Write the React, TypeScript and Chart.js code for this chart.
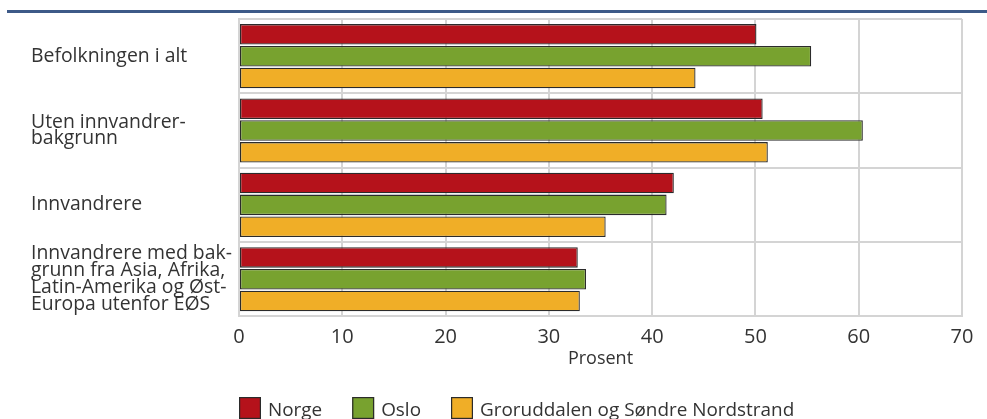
import React, { useEffect, useRef } from "react";
import { Chart, registerables } from "chart.js";

Chart.register(...registerables);

const categories: (string | string[])[] = [
  "Befolkningen i alt",
  ["Uten innvandrer-", "bakgrunn"],
  "Innvandrere",
  ["Innvandrere med bak-", "grunn fra Asia, Afrika,", "Latin-Amerika og Øst-", "Europa utenfor EØS"],
];

const seriesNames = ["Norge", "Oslo", "Groruddalen og Søndre Nordstrand"];
const norge = [50.1, 50.7, 42.1, 32.8];
const oslo = [55.4, 60.4, 41.4, 33.6];
const groruddalen = [44.2, 51.2, 35.5, 33.0];
const seriesColors = ["#b5121b", "#78a22f", "#f0ae27"];

const xTicks = [0, 10, 20, 30, 40, 50, 60, 70];
const axisTitle = "Prosent";

const FONT = "'Open Sans', 'DejaVu Sans', sans-serif";
const TEXT = "#333333";
const GRID = "#d4d4d4";

const decorPlugin = {
  id: "decor",
  beforeDraw(chart: any) {
    const ctx = chart.ctx;
    ctx.save();
    ctx.fillStyle = "#3d5a88";
    ctx.fillRect(7, 10, 987 - 7, 3);
    ctx.restore();
  },
  afterDraw(chart: any) {
    const ctx = chart.ctx;
    ctx.save();
    ctx.font = `18.9px ${FONT}`;
    ctx.textBaseline = "alphabetic";
    let x = chart.chartArea.left;
    const top = 397;
    chart.data.datasets.forEach((ds: any) => {
      ctx.fillStyle = ds.backgroundColor;
      ctx.fillRect(x, top, 22, 22);
      ctx.strokeStyle = "#2b2b2b";
      ctx.lineWidth = 1.2;
      ctx.strokeRect(x + 0.6, top + 0.6, 20.8, 20.8);
      ctx.fillStyle = TEXT;
      const tx = x + 22 + 7;
      ctx.fillText(ds.label, tx, top + 19);
      x = tx + ctx.measureText(ds.label).width + 30;
    });
    ctx.restore();
  },
};

export default function App() {
  const ref = useRef<HTMLCanvasElement | null>(null);

  useEffect(() => {
    if (!ref.current) return;
    const mk = (label: string, data: number[], color: string) => ({
      label,
      data,
      backgroundColor: color,
      borderColor: "#2b2b2b",
      borderWidth: 1.3,
      borderSkipped: false,
      categoryPercentage: 0.88,
      barPercentage: 0.94,
    });
    const chart = new Chart(ref.current, {
      type: "bar",
      data: {
        labels: categories as any,
        datasets: [
          mk(seriesNames[0], norge, seriesColors[0]),
          mk(seriesNames[1], oslo, seriesColors[1]),
          mk(seriesNames[2], groruddalen, seriesColors[2]),
        ],
      },
      options: {
        indexAxis: "y",
        responsive: false,
        animation: false,
        layout: { padding: { left: 31, top: 19, right: 25, bottom: 73 } },
        plugins: {
          legend: { display: false },
          tooltip: { enabled: false },
          title: { display: false },
        },
        scales: {
          x: {
            min: xTicks[0],
            max: xTicks[xTicks.length - 1],
            afterBuildTicks: (scale: any) => {
              scale.ticks = xTicks.map((v) => ({ value: v }));
            },
            afterFit: (scale: any) => {
              scale.paddingLeft = 0;
              scale.paddingRight = 0;
            },
            grid: { color: GRID, lineWidth: 2, drawTicks: false },
            border: { display: true, color: GRID, width: 2 },
            ticks: {
              color: TEXT,
              font: { family: FONT, size: 20 },
              padding: 9,
            },
            title: {
              display: true,
              text: axisTitle,
              color: TEXT,
              font: { family: FONT, size: 18 },
              padding: { top: -10, bottom: -3 },
            },
          },
          y: {
            afterFit: (scale: any) => {
              scale.width = 208;
              scale.paddingTop = 0;
              scale.paddingBottom = 0;
            },
            grid: { color: GRID, lineWidth: 2, drawTicks: false, offset: true },
            border: { display: true, color: GRID, width: 2 },
            ticks: {
              color: TEXT,
              crossAlign: "far",
              autoSkip: false,
              font: { family: FONT, size: 19.4, lineHeight: 0.87 },
            },
          },
        },
      },
      plugins: [decorPlugin],
    });
    return () => chart.destroy();
  }, []);

  return (
    <div style={{ position: "absolute", left: 0, top: 0, width: 987, height: 419, overflow: "hidden", background: "#fff" }}>
      <canvas ref={ref} width={987} height={440} style={{ display: "block" }} />
    </div>
  );
}
